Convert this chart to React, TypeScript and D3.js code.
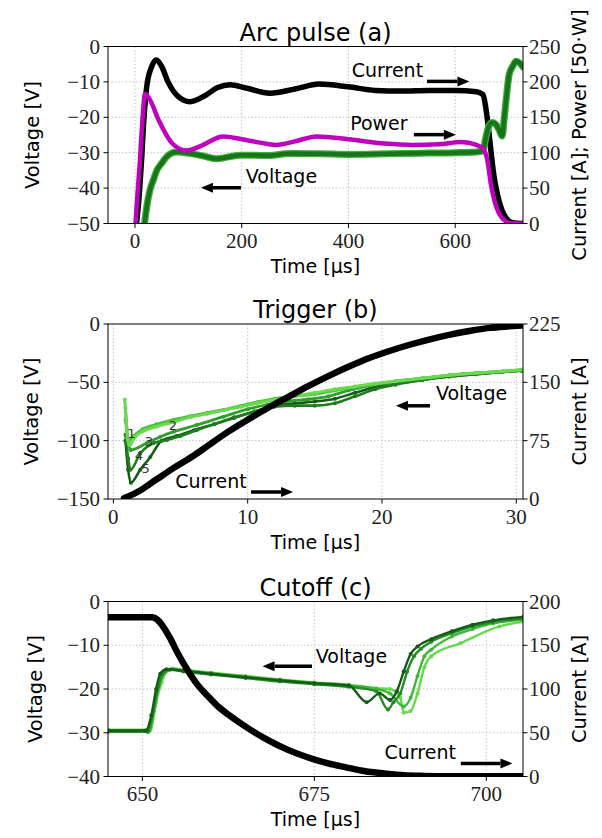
import React from 'react';
import * as d3 from 'd3';

// ---- panel (a): arc pulse ----
const aCurT = [3, 8, 12, 17, 22, 31, 40, 50, 62, 80, 103, 130, 155, 178, 210, 253, 300, 345, 400, 450, 500, 550, 600, 640, 652, 657, 663, 668, 673, 680, 688, 697, 708, 727];
const aCurI = [0, 40, 85, 150, 193, 221, 231, 222, 200, 180, 172, 180, 192, 196, 191, 184, 190, 197, 193, 188, 187, 188, 188, 186, 182, 165, 130, 95, 65, 38, 18, 6, 1, 0];
const aPowT = [1, 5, 9, 13, 19, 28, 45, 70, 97, 125, 165, 215, 265, 300, 340, 400, 467, 520, 570, 611, 640, 652, 660, 667, 675, 690, 705, 727];
const aPowP = [0, 45, 85, 135, 183, 175, 145, 113, 103, 110, 123, 117, 111, 116, 123, 119, 113, 111, 112, 115, 111, 106, 90, 55, 28, 6, 0, 0];
const aVolT = [18, 22, 28, 35, 41, 50, 59, 78, 103, 130, 153, 197, 250, 290, 350, 400, 450, 500, 550, 600, 640, 652, 657, 663, 670, 676, 682, 688, 692, 696, 701, 708, 714, 720, 727];
const aVolV = [-50, -45.4, -40.6, -37.5, -35, -33, -31.2, -29.8, -30.2, -31, -31.7, -30.7, -30.8, -30.2, -30.3, -30.5, -30.4, -30.2, -30.1, -30, -29.8, -29.5, -26, -22.5, -21.5, -22, -23.5, -25.3, -20, -14.2, -8, -5.5, -4.2, -4.6, -5.8];

// ---- panel (b): trigger ----
const bCurT = [0.8, 2, 3.2, 4.5, 6, 7, 8.5, 10, 11.5, 13, 14.5, 16, 17.5, 19, 20.5, 22, 23.5, 25, 26.5, 28, 29.5, 30.4];
const bCurI = [1, 11, 25, 40, 56, 68, 86, 102, 117, 131, 145, 158, 170, 181, 190, 198, 205, 211, 216, 220, 222, 223];
const bV1T = [0.85, 0.95, 1.05, 1.2, 1.6, 2.2, 3.2, 4.5, 5.7, 7, 8.2, 9.5, 10.7, 12, 13.5, 15, 16.5, 18, 19.5, 21, 23, 25, 27, 29, 30.4];
const bV1V = [-65, -82, -98, -104, -97, -92, -88, -84, -80, -77, -74, -71, -68, -65, -62, -59, -56, -53.5, -51, -49, -46.5, -44, -42, -40.5, -39];
const bV2T = [0.9, 1.0, 1.15, 1.5, 2.2, 3.2, 4.5, 5.7, 7, 8.2, 9.5, 10.7, 12, 13.5, 15, 16.5, 18, 19.5, 21, 23, 25, 27, 29, 30.4];
const bV2V = [-72, -90, -100, -96, -90, -86, -82, -79, -76, -73.5, -70, -67, -64, -62, -60, -57, -54, -51.5, -49, -46.5, -44, -42, -40.5, -39.5];
const bV3T = [0.9, 1.1, 1.27, 2.5, 3.5, 4.5, 6.2, 8.2, 10, 11.5, 13, 14.5, 16, 17.5, 19, 20.5, 22, 24, 26, 28, 30.4];
const bV3V = [-82, -100, -108, -102, -96.6, -92.3, -86.6, -79.4, -73, -69, -66, -64.5, -62, -57, -53, -50.5, -48, -45.5, -43, -41.5, -39.5];
const bV4T = [0.9, 1.1, 1.27, 2.0, 3.0, 4.0, 5, 6.2, 7.5, 9, 10.5, 12, 13.5, 15, 16.5, 18, 19.5, 21, 23, 25, 27, 29, 30.4];
const bV4V = [-95, -115, -125, -111, -102, -99.4, -96, -91, -86, -80.5, -75, -71, -70, -70, -68, -62, -56, -52, -48, -45, -43, -41, -40];
const bV5T = [0.9, 1.1, 1.3, 2.0, 2.75, 3.6, 4.7, 6, 7.5, 9, 10.5, 12, 13.5, 15, 16.5, 18, 19.5, 21, 23, 25, 27, 29, 30.4];
const bV5V = [-100, -125, -136, -125, -114, -100, -96, -91, -86, -80, -75, -70, -68, -66.5, -64, -59, -54, -51, -48, -45, -43, -41, -40];
const bShotLabels = ['1', '2', '3', '4', '5'];
const bShotT = [1.35, 4.44, 2.65, 1.9, 2.4];
const bShotV = [-94, -86.6, -101, -113, -123.5];

// ---- panel (c): cutoff ----
const cCurT = [645, 651.4, 652.2, 653.9, 655.2, 656.7, 658, 659.5, 661, 662.8, 665, 668.4, 671, 674, 677, 679.6, 682.4, 685.2, 688, 691, 695, 700, 705.4];
const cCurI = [182, 182, 179, 160, 140, 120, 105, 92, 80, 69, 57, 41, 31, 22, 15, 10.5, 6, 3.5, 1.5, 0.7, 0.3, 0.2, 0.2];
const cV1T = [645, 650.5, 651.3, 652, 652.6, 653.5, 656, 660, 665, 670, 675, 680, 682.6, 684.5, 686, 687, 688, 689, 690, 692, 695, 698, 701, 705.4];
const cV1V = [-29.5, -29.5, -26, -20, -16.5, -15.5, -15.8, -16.5, -17.3, -18, -18.7, -19.2, -23, -21, -22.5, -20.5, -16, -12, -10.3, -8.6, -6.8, -5.3, -4.3, -3.5];
const cV2T = [645, 650.8, 651.6, 652.3, 653, 654, 656, 660, 665, 670, 675, 680, 684, 685.7, 686.5, 687.5, 688.5, 689.5, 690.5, 692, 695, 698, 701, 705.4];
const cV2V = [-29.8, -29.8, -25, -19.5, -16.5, -15.6, -16, -16.7, -17.5, -18.3, -18.9, -19.5, -20.5, -24.7, -23, -21, -16, -12.5, -10.8, -9.2, -7.2, -5.7, -4.7, -3.8];
const cV3T = [645, 651, 651.8, 652.5, 653.2, 654.2, 656, 660, 665, 670, 675, 680, 684, 686, 688, 689, 690, 691, 692, 695, 698, 701, 705.4];
const cV3V = [-29.5, -29.5, -24, -19, -16.2, -15.4, -15.7, -16.4, -17.2, -18, -18.6, -19.2, -20, -21, -24, -22, -17, -12.5, -11, -8, -6.3, -5, -4.2];
const cV4T = [645, 651.2, 652, 652.8, 653.5, 654.5, 656, 660, 665, 670, 675, 680, 684, 686, 687.5, 688, 689, 690, 691, 692, 696.3, 701.9, 705.4];
const cV4V = [-29.3, -29.3, -23, -18.5, -16, -15.3, -15.6, -16.3, -17, -17.8, -18.5, -19, -19.8, -20, -22, -25.4, -25, -21, -15, -12.5, -9.5, -5.7, -4.6];

const SANS = '"DejaVu Sans", sans-serif';
const SERIF = '"Liberation Serif", serif';
const fmt = (v: number) => (v < 0 ? '\u2212' + Math.abs(v) : String(v));

type Trace = { t: number[]; v: number[]; color: string; width: number; right?: boolean; dots?: boolean; under?: string };
type Note = { text: string; t: number; v: number; size?: number; color?: string };
type Arrow = { t0: number; t1: number; v: number };

type PanelProps = {
  id: string;
  top: number;
  bottom: number;
  xDomain: [number, number];
  lDomain: [number, number];
  rDomain: [number, number];
  xTicks: number[];
  lTicks: number[];
  rTicks: number[];
  title: string;
  rightLabel: string;
  leftLabelX: number;
  traces: Trace[];
  notes: Note[];
  arrows: Arrow[];
};

const LEFT = 108;
const RIGHT = 523;

function Panel(p: PanelProps) {
  const x = d3.scaleLinear().domain(p.xDomain).range([LEFT, RIGHT]);
  const yL = d3.scaleLinear().domain(p.lDomain).range([p.bottom, p.top]);
  const yR = d3.scaleLinear().domain(p.rDomain).range([p.bottom, p.top]);
  const midY = (p.top + p.bottom) / 2;

  return (
    <g>
      <defs>
        <clipPath id={'clip-' + p.id}>
          <rect x={LEFT} y={p.top} width={RIGHT - LEFT} height={p.bottom - p.top} />
        </clipPath>
      </defs>
      {/* grid */}
      {p.xTicks.map((t) => (
        <line key={'gx' + t} x1={x(t)} x2={x(t)} y1={p.top} y2={p.bottom} stroke="#bbb" strokeWidth={0.9} strokeDasharray="1.5,2" />
      ))}
      {p.lTicks.filter((v) => v > p.lDomain[0] && v < p.lDomain[1]).map((v) => (
        <line key={'gy' + v} x1={LEFT} x2={RIGHT} y1={yL(v)} y2={yL(v)} stroke="#bbb" strokeWidth={0.9} strokeDasharray="1.5,2" />
      ))}

      <g clipPath={`url(#clip-${p.id})`}>
        {p.traces.map((tr, i) => {
          const y = tr.right ? yR : yL;
          const pts = tr.t.map((t, k) => [t, tr.v[k]] as [number, number]);
          const line = d3.line<[number, number]>().x((d) => x(d[0])).y((d) => y(d[1])).curve(d3.curveMonotoneX);
          return (
            <g key={'tr' + i}>
              {tr.under && (
                <path d={line(pts) || ''} fill="none" stroke={tr.under} strokeWidth={tr.width + 2.5} strokeLinejoin="round" strokeLinecap="round" />
              )}
              <path d={line(pts) || ''} fill="none" stroke={tr.color} strokeWidth={tr.width} strokeLinejoin="round" strokeLinecap="round" />
              {tr.dots && pts.map((d, k) => <circle key={k} cx={x(d[0])} cy={y(d[1])} r={2} fill={tr.color} />)}
            </g>
          );
        })}
      </g>

      {/* annotations */}
      {p.notes.map((n, i) => (
        <text key={'n' + i} x={x(n.t)} y={yL(n.v)} textAnchor="middle" dominantBaseline="central" fontFamily={SANS} fontSize={n.size || 19} fill={n.color || '#000'}>
          {n.text}
        </text>
      ))}
      {p.arrows.map((a, i) => {
        const x0 = x(a.t0), x1 = x(a.t1), yy = yL(a.v);
        const dir = x1 > x0 ? 1 : -1;
        const hx = x1 - dir * 12;
        return (
          <g key={'a' + i}>
            <line x1={x0} x2={hx} y1={yy} y2={yy} stroke="#000" strokeWidth={3.5} />
            <polygon points={`${x1},${yy} ${hx},${yy - 5} ${hx},${yy + 5}`} fill="#000" />
          </g>
        );
      })}

      {/* frame */}
      <rect x={LEFT} y={p.top} width={RIGHT - LEFT} height={p.bottom - p.top} fill="none" stroke="#000" strokeWidth={1} />

      {/* ticks */}
      {p.xTicks.map((t) => (
        <g key={'xt' + t}>
          <line x1={x(t)} x2={x(t)} y1={p.bottom} y2={p.bottom + 4.5} stroke="#000" />
          <text x={x(t)} y={p.bottom + 17.5} textAnchor="middle" dominantBaseline="central" fontFamily={SERIF} fontSize={21} fill="#222">
            {fmt(t)}
          </text>
        </g>
      ))}
      {p.lTicks.map((v) => (
        <g key={'lt' + v}>
          <line x1={LEFT - 4.5} x2={LEFT} y1={yL(v)} y2={yL(v)} stroke="#000" />
          <text x={LEFT - 8} y={yL(v)} textAnchor="end" dominantBaseline="central" fontFamily={SERIF} fontSize={21} fill="#222">
            {fmt(v)}
          </text>
        </g>
      ))}
      {p.rTicks.map((v) => (
        <g key={'rt' + v}>
          <line x1={RIGHT} x2={RIGHT + 4.5} y1={yR(v)} y2={yR(v)} stroke="#000" />
          <text x={RIGHT + 6} y={yR(v)} textAnchor="start" dominantBaseline="central" fontFamily={SERIF} fontSize={21} fill="#222">
            {fmt(v)}
          </text>
        </g>
      ))}

      {/* labels */}
      <text x={(LEFT + RIGHT) / 2} y={p.top - 14} textAnchor="middle" dominantBaseline="central" fontFamily={SANS} fontSize={24}>
        {p.title}
      </text>
      <text x={(LEFT + RIGHT) / 2} y={p.bottom + 42.5} textAnchor="middle" dominantBaseline="central" fontFamily={SANS} fontSize={19}>
        Time [µs]
      </text>
      <text transform={`translate(${p.leftLabelX},${midY}) rotate(-90)`} textAnchor="middle" dominantBaseline="central" fontFamily={SANS} fontSize={19.5}>
        Voltage [V]
      </text>
      <text transform={`translate(579,${midY}) rotate(-90)`} textAnchor="middle" dominantBaseline="central" fontFamily={SANS} fontSize={19.5}>
        {p.rightLabel}
      </text>
    </g>
  );
}

export default function App() {
  return (
    <svg width={602} height={838} style={{ position: 'absolute', left: 0, top: 0, background: '#fff' }}>
      <rect width={602} height={838} fill="#fff" />
      <Panel
        id="a"
        top={46.5}
        bottom={223.5}
        xDomain={[-50.5, 727]}
        lDomain={[-50, 0]}
        rDomain={[0, 250]}
        xTicks={[0, 200, 400, 600]}
        lTicks={[-50, -40, -30, -20, -10, 0]}
        rTicks={[0, 50, 100, 150, 200, 250]}
        title="Arc pulse (a)"
        rightLabel="Current [A]; Power [50·W]"
        leftLabelX={32}
        traces={[
          { t: aCurT, v: aCurI, color: '#000', width: 5.5, right: true },
          { t: aVolT, v: aVolV, color: '#17741a', width: 4.5, under: '#3fae3a' },
          { t: aPowT, v: aPowP, color: '#bf00bf', width: 4.5, right: true },
        ]}
        notes={[
          { text: 'Current', t: 473, v: -6.6 },
          { text: 'Power', t: 457, v: -21.6 },
          { text: 'Voltage', t: 274.5, v: -36.6 },
        ]}
        arrows={[
          { t0: 547, t1: 626.6, v: -9.86 },
          { t0: 522.6, t1: 601.3, v: -24.9 },
          { t0: 198.6, t1: 123.6, v: -39.9 },
        ]}
      />
      <Panel
        id="b"
        top={324}
        bottom={499}
        xDomain={[-0.4, 30.5]}
        lDomain={[-150, 0]}
        rDomain={[0, 225]}
        xTicks={[0, 10, 20, 30]}
        lTicks={[-150, -100, -50, 0]}
        rTicks={[0, 75, 150, 225]}
        title="Trigger (b)"
        rightLabel="Current [A]"
        leftLabelX={31}
        traces={[
          { t: bV5T, v: bV5V, color: '#165e17', width: 2.6, dots: true },
          { t: bV4T, v: bV4V, color: '#1f7d20', width: 2.6, dots: true },
          { t: bV3T, v: bV3V, color: '#2f9e2c', width: 2.8, dots: true },
          { t: bV2T, v: bV2V, color: '#4cc23f', width: 3, dots: true },
          { t: bV1T, v: bV1V, color: '#6ad850', width: 3, dots: true },
          { t: bCurT, v: bCurI, color: '#000', width: 6.5, right: true },
        ]}
        notes={[
          { text: 'Voltage', t: 26.67, v: -59.1 },
          { text: 'Current', t: 7.27, v: -134.6 },
          ...bShotLabels.map((s, i) => ({ text: s, t: bShotT[i], v: bShotV[i], size: 13, color: '#333' })),
        ]}
        arrows={[
          { t0: 23.58, t1: 21.04, v: -70.1 },
          { t0: 10.25, t1: 13.38, v: -144 },
        ]}
      />
      <Panel
        id="c"
        top={601.5}
        bottom={776.5}
        xDomain={[645, 705.34]}
        lDomain={[-40, 0]}
        rDomain={[0, 200]}
        xTicks={[650, 675, 700]}
        lTicks={[-40, -30, -20, -10, 0]}
        rTicks={[0, 50, 100, 150, 200]}
        title="Cutoff (c)"
        rightLabel="Current [A]"
        leftLabelX={35}
        traces={[
          { t: cV4T, v: cV4V, color: '#66d84e', width: 2.4, dots: true },
          { t: cV3T, v: cV3V, color: '#3fb83a', width: 2.4, dots: true },
          { t: cV2T, v: cV2V, color: '#248a26', width: 2.4, dots: true },
          { t: cV1T, v: cV1V, color: '#135c15', width: 2.4, dots: true },
          { t: cCurT, v: cCurI, color: '#000', width: 6.5, right: true },
        ]}
        notes={[
          { text: 'Voltage', t: 680.4, v: -12.5 },
          { text: 'Current', t: 690.4, v: -34.4 },
        ]}
        arrows={[
          { t0: 674.66, t1: 667.47, v: -14.8 },
          { t0: 696.3, t1: 703.8, v: -37 },
        ]}
      />
    </svg>
  );
}
